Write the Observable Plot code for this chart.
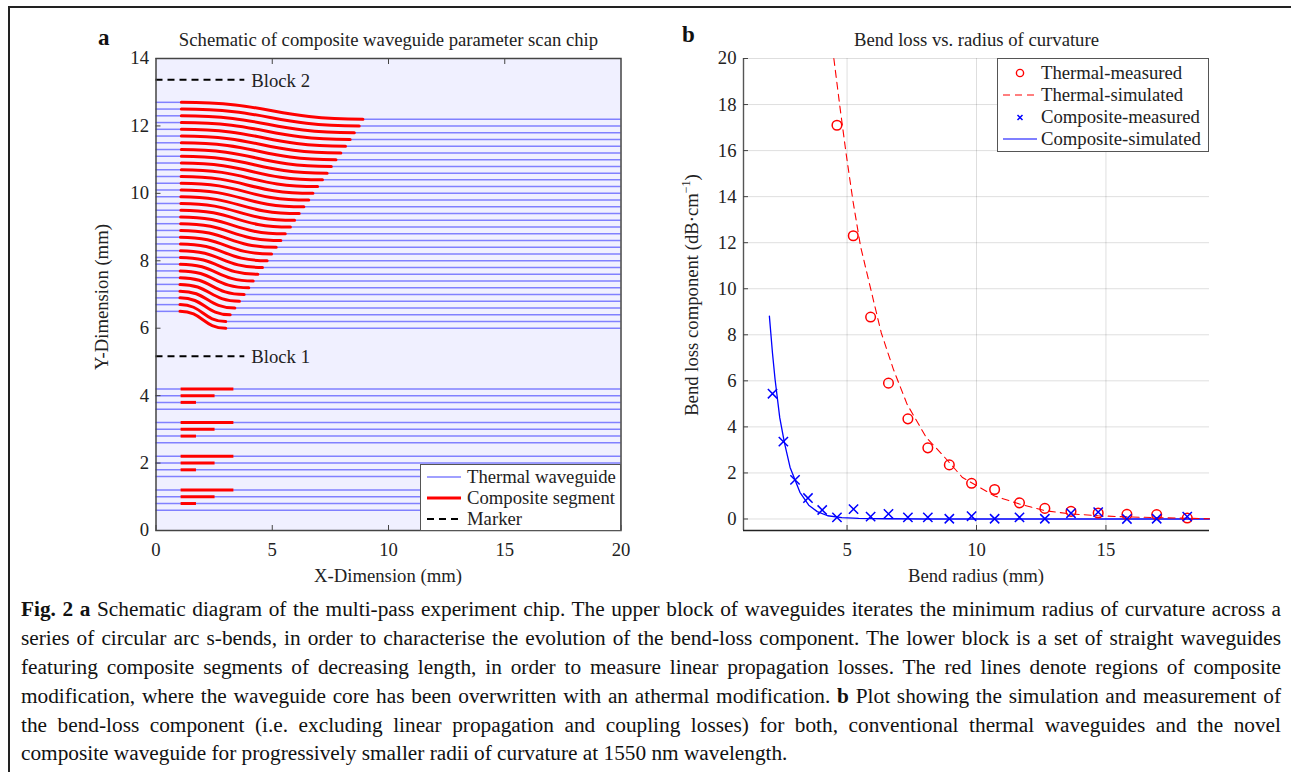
<!DOCTYPE html>
<html><head><meta charset="utf-8">
<script src="https://cdn.jsdelivr.net/npm/d3@7"></script>
<script src="https://cdn.jsdelivr.net/npm/@observablehq/plot@0.6"></script>
<style>
html,body{margin:0;padding:0;background:#fff;width:1291px;height:772px;overflow:hidden;font-family:"Liberation Serif",serif;color:#222}
#stage{position:relative;width:1291px;height:772px;overflow:hidden}
#stage>*{position:absolute}
.frame{background:#222}
.plot{left:0;top:0}
.t{font-size:18.7px;line-height:1;white-space:nowrap;color:#222}
.panel{font-size:23px;font-weight:bold;color:#111}
.legend{background:#fff;border:1.5px solid #555;box-sizing:border-box}
.legend svg{position:absolute;left:0;top:0}
.legend span{position:absolute;font-size:18.7px;line-height:1;white-space:nowrap;color:#222}
#caption{left:21px;top:595px;width:1260px;font-size:21.3px;line-height:28.9px;color:#111}
#caption div{text-align:justify;text-align-last:justify;height:28.9px}
#caption div:last-child{text-align-last:left}
</style></head><body><div id="stage"></div>
<script>
// Panel a: lists (mm)
const bendStartY=[6.5,6.7,6.9,7.1,7.3,7.5,7.7,7.9,8.1,8.3,8.5,8.7,8.9,9.1,9.3,9.5,9.7,9.9,10.1,10.3,10.5,10.7,10.9,11.1,11.3,11.5,11.7,11.9,12.1,12.3,12.5,12.7];
const bendEndY=[6.0,6.2,6.4,6.6,6.8,7.0,7.2,7.4,7.6,7.8,8.0,8.2,8.4,8.6,8.8,9.0,9.2,9.4,9.6,9.8,10.0,10.2,10.4,10.6,10.8,11.0,11.2,11.4,11.6,11.8,12.0,12.2];
const bendStartX=[1.03,1.03,1.03,1.03,1.03,1.04,1.04,1.04,1.05,1.05,1.05,1.05,1.06,1.06,1.06,1.07,1.07,1.07,1.08,1.08,1.08,1.09,1.09,1.09,1.09,1.09,1.09,1.09,1.09,1.09,1.09,1.09];
const bendEndX=[3.0,3.0,3.19,3.39,3.59,3.79,3.99,4.18,4.38,4.58,4.78,4.97,5.17,5.37,5.56,5.78,5.96,6.16,6.36,6.57,6.75,6.95,7.16,7.36,7.54,7.74,7.95,8.15,8.35,8.53,8.74,8.9];
const straightY=[0.6,0.8,1.0,1.2,1.6,1.8,2.0,2.2,2.6,2.8,3.0,3.2,3.6,3.8,4.0,4.2];
const segmentY=[0.8,1.0,1.2,1.8,2.0,2.2,2.8,3.0,3.2,3.8,4.0,4.2];
const segmentEndX=[1.74,2.54,3.35,1.74,2.54,3.35,1.74,2.54,3.35,1.74,2.54,3.35];
const segmentStartX=1.08;
const markerY=[5.17,13.37], markerEndX=3.82, markerLabel=["Block 1","Block 2"], markerLabelX=4.1;
// Panel b (radius mm, loss dB/cm)
const measuredRadiusT=[4.61,5.24,5.91,6.6,7.35,8.12,8.95,9.81,10.7,11.66,12.64,13.65,14.7,15.81,16.96,18.14];
const measuredThermal=[17.1,12.3,8.77,5.9,4.35,3.09,2.35,1.55,1.28,0.7,0.46,0.33,0.26,0.2,0.19,0.04];
const measuredRadiusC=[2.12,2.54,2.99,3.49,4.04,4.61,5.25,5.91,6.6,7.35,8.12,8.95,9.81,10.7,11.66,12.64,13.65,14.7,15.81,16.96,18.14];
const measuredComposite=[5.44,3.36,1.7,0.91,0.39,0.07,0.43,0.1,0.22,0.07,0.07,0.01,0.12,0.01,0.07,0.01,0.25,0.3,0,0.01,0.1];
const simRadiusT=[4.49,4.72,4.96,5.23,5.52,5.92,6.32,6.79,7.32,8.06,8.66,9.46,10.7,11.66,12.64,13.65,14.7,15.81,16.96,18.14,19];
const simThermal=[20,17.94,15.9,13.8,11.85,9.96,8.09,6.5,4.98,3.54,2.82,1.8,1.0,0.65,0.36,0.22,0.14,0.09,0.06,0.03,0.01];
const simRadiusC=[2.0,2.12,2.22,2.4,2.58,2.8,3.18,3.52,3.85,4.25,4.8,5.45,6.5,8,19];
const simComposite=[8.81,7.2,6.06,4.4,3.32,2.24,1.16,0.6,0.32,0.14,0.06,0.03,0.01,0,0];
const captionLines=[
 "<b>Fig. 2 a</b> Schematic diagram of the multi-pass experiment chip. The upper block of waveguides iterates the minimum radius of curvature across a",
 "series of circular arc s-bends, in order to characterise the evolution of the bend-loss component. The lower block is a set of straight waveguides",
 "featuring composite segments of decreasing length, in order to measure linear propagation losses. The red lines denote regions of composite",
 "modification, where the waveguide core has been overwritten with an athermal modification. <b>b</b> Plot showing the simulation and measurement of",
 "the bend-loss component (i.e. excluding linear propagation and coupling losses) for both, conventional thermal waveguides and the novel",
 "composite waveguide for progressively smaller radii of curvature at 1550 nm wavelength."];

const blue="#8080ff", red="#ff0000", ink="#222";
const W=1291,H=590;
const stage=document.getElementById("stage");
const add=(cls,css,html)=>{const d=document.createElement("div");d.className=cls;d.style.cssText=css;if(html!=null)d.innerHTML=html;stage.appendChild(d);return d};
const blank=()=>"";

const panelA=Plot.plot({
  width:W,height:H,marginLeft:155.5,marginRight:W-620.5,marginTop:58,marginBottom:H-530,
  style:{background:"transparent",fontFamily:"Liberation Serif",color:ink},
  x:{domain:[0,20],label:null,axis:null},
  y:{domain:[0,14],label:null,axis:null},
  marks:[
    Plot.frame({fill:"#f0f0ff"}),
    Plot.ruleY(straightY,{x1:0,x2:20,stroke:blue,strokeWidth:1.5}),
    Plot.ruleY(bendStartY,{x1:0,x2:(d,i)=>bendStartX[i],stroke:blue,strokeWidth:1.5}),
    Plot.ruleY(bendEndY,{x1:(d,i)=>bendEndX[i],x2:20,stroke:blue,strokeWidth:1.5}),
    Plot.ruleY(segmentY,{x1:segmentStartX,x2:(d,i)=>segmentEndX[i],stroke:red,strokeWidth:3}),
    ...bendStartY.map((y,i)=>Plot.line([[bendStartX[i],y],[bendEndX[i],bendEndY[i]]],{curve:"bump-x",stroke:red,strokeWidth:3})),
    Plot.ruleY(markerY,{x1:0,x2:markerEndX,stroke:"#000",strokeWidth:2,strokeDasharray:"7 5"}),
    Plot.text(markerLabel,{x:markerLabelX,y:(d,i)=>markerY[i],text:d=>d,textAnchor:"start",fontSize:18.7,fill:ink,dy:1}),
    Plot.frame({stroke:"#444",strokeWidth:1.5}),
    Plot.axisX({ticks:[0,5,10,15,20],tickSize:-5,tickPadding:17,fontSize:18.7,label:null,stroke:"#444"}),
    Plot.axisX({anchor:"top",ticks:[5,10,15],tickSize:-5,tickFormat:blank,label:null,stroke:"#444"}),
    Plot.axisY({ticks:[0,2,4,6,8,10,12,14],tickSize:-5,tickPadding:12,fontSize:18.7,label:null,stroke:"#444"})
  ]
});
panelA.classList.add("plot");stage.appendChild(panelA);

const panelB=Plot.plot({
  width:W,height:H,marginLeft:743,marginRight:W-1209,marginTop:58,marginBottom:H-530,
  style:{background:"transparent",fontFamily:"Liberation Serif",color:ink},
  x:{domain:[1,19],label:null,axis:null},
  y:{domain:[-0.5,20],label:null,axis:null},
  marks:[
    Plot.gridX([5,10,15],{stroke:"#000",strokeOpacity:0.13}),
    Plot.gridY([0,2,4,6,8,10,12,14,16,18,20],{stroke:"#000",strokeOpacity:0.13}),
    Plot.line(simRadiusC,{x:d=>d,y:(d,i)=>simComposite[i],stroke:"#0000ff",strokeWidth:1.3}),
    Plot.line(simRadiusT,{x:d=>d,y:(d,i)=>simThermal[i],stroke:"#ff0000",strokeWidth:1.1,strokeDasharray:"7 5"}),
    Plot.dot(measuredRadiusT,{x:d=>d,y:(d,i)=>measuredThermal[i],r:4.8,stroke:"#ff0000",strokeWidth:1.5,fill:"none"}),
    Plot.dot(measuredRadiusC,{x:d=>d,y:(d,i)=>measuredComposite[i],symbol:"times",r:4.3,stroke:"#0000ff",strokeWidth:1.5}),
    Plot.ruleX([1],{stroke:"#555",strokeWidth:1.4}),
    Plot.ruleY([-0.5],{stroke:"#222",strokeWidth:1.4}),
    Plot.axisX({ticks:[5,10,15],tickSize:-5,tickPadding:17,fontSize:18.7,label:null,stroke:"#444"}),
    Plot.axisY({ticks:[0,2,4,6,8,10,12,14,16,18,20],tickSize:-5,tickPadding:12,fontSize:18.7,label:null,stroke:"#444"})
  ]
});
panelB.classList.add("plot");stage.appendChild(panelB);

// frame
add("frame","left:8px;top:6px;width:1283px;height:1.5px");
add("frame","left:8px;top:6px;width:1.5px;height:766px");

// titles & labels
add("panel t","left:98px;top:26px","a");
add("panel t","left:682px;top:23px","b");
add("t","left:388.5px;top:31px;transform:translateX(-50%)","Schematic of composite waveguide parameter scan chip");
add("t","left:976.5px;top:31px;transform:translateX(-50%)","Bend loss vs. radius of curvature");
add("t","left:388px;top:567px;transform:translateX(-50%)","X-Dimension (mm)");
add("t","left:976px;top:567px;transform:translateX(-50%)","Bend radius (mm)");
add("t","left:102px;top:297px;transform:translate(-50%,-50%) rotate(-90deg)","Y-Dimension (mm)");
add("t","left:692px;top:295px;transform:translate(-50%,-50%) rotate(-90deg)","Bend loss component (dB·cm<sup style='font-size:12px;line-height:0'>−1</sup>)");

// legend a
add("legend","left:420px;top:464px;width:201px;height:67px",`
<svg width="201" height="67"><line x1="6" x2="40" y1="12" y2="12" stroke="${blue}" stroke-width="1.5"/><line x1="6" x2="40" y1="33" y2="33" stroke="${red}" stroke-width="3"/><line x1="6" x2="40" y1="54" y2="54" stroke="#000" stroke-width="2" stroke-dasharray="7 5"/></svg>
<span style="left:46px;top:3px">Thermal waveguide</span><span style="left:46px;top:24px">Composite segment</span><span style="left:46px;top:45px">Marker</span>`);
// legend b
add("legend","left:997px;top:58px;width:212px;height:94px",`
<svg width="212" height="94"><circle cx="22" cy="14" r="3.6" fill="none" stroke="#f00" stroke-width="1.4"/><line x1="5" x2="39" y1="36" y2="36" stroke="#f00" stroke-width="1.1" stroke-dasharray="7 5"/><path d="M19.5 56l5 5m0-5l-5 5" stroke="#00f" stroke-width="1.5"/><line x1="5" x2="39" y1="80" y2="80" stroke="#00f" stroke-width="1.2"/></svg>
<span style="left:43px;top:5px">Thermal-measured</span><span style="left:43px;top:27px">Thermal-simulated</span><span style="left:43px;top:49px">Composite-measured</span><span style="left:43px;top:71px">Composite-simulated</span>`);

// caption
const cap=add("","",null);cap.id="caption";
captionLines.forEach(l=>{const d=document.createElement("div");d.innerHTML=l;cap.appendChild(d)});
</script></body></html>
